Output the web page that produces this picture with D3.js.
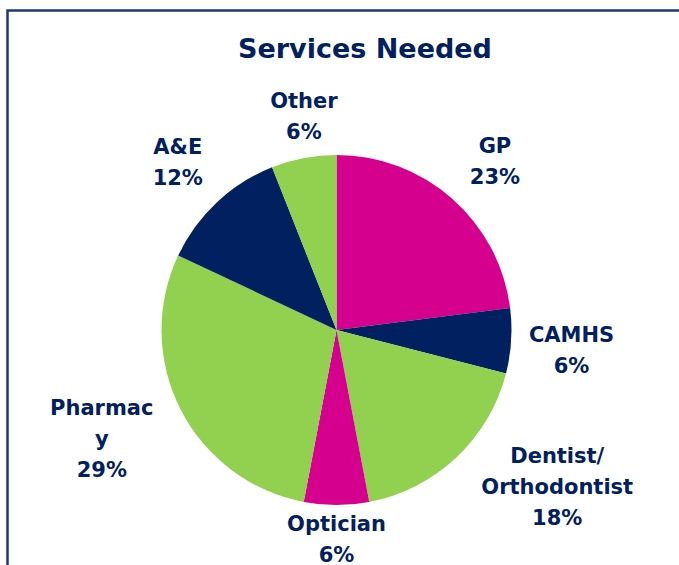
<!DOCTYPE html>
<html>
<head>
<meta charset="utf-8">
<script src="https://cdn.jsdelivr.net/npm/d3@7"></script>
<style>
  body { margin: 0; background: #fff; }
  text { font-family: "DejaVu Sans", Verdana, sans-serif; font-weight: bold; fill: #002060; }
</style>
</head>
<body>
<div id="chart"></div>
<script>
// data, clockwise from 12 o'clock
const services = ['GP', 'CAMHS', 'Dentist/ Orthodontist', 'Optician', 'Pharmacy', 'A&E', 'Other']
const percents = [23, 6, 18, 6, 29, 12, 6]
const sliceColors = ['#d6008f', '#002060', '#92d050', '#d6008f', '#92d050', '#002060', '#92d050']
// how each label wraps in the picture
const labelLines = [['GP'], ['CAMHS'], ['Dentist/', 'Orthodontist'], ['Optician'],
  ['Pharmac', 'y'], ['A&E'], ['Other']]

const width = 679, height = 565
const cx = 336.5, cy = 330, r = 175

// label nudges (px) from the outer centroid, to match the hand-fitted layout
const labelNudge = {
  'GP': [8, 2], 'CAMHS': [8, 6], 'Dentist/ Orthodontist': [65, -9], 'Optician': [0, -19],
  'Pharmacy': [-32, 5], 'A&E': [-3, -2], 'Other': [10, 9]
}

const svg = d3.select('#chart').
  append('svg').
  attr('width', width).
  attr('height', height)

// frame, cut off right and bottom
svg.append('rect').
  attr('x', 7.5).
  attr('y', 10.5).
  attr('width', 800).
  attr('height', 800).
  attr('fill', 'none').
  attr('stroke', '#1f3a78').
  attr('stroke-width', 2.5)

svg.append('text').
  attr('x', 365).
  attr('y', 58).
  attr('text-anchor', 'middle').
  style('font-size', '27px').
  text('Services Needed')

const slices = services.map((s, i) => ({ name: s, value: percents[i], color: sliceColors[i], lines: labelLines[i] }))

const pie = d3.pie().value(d => d.value).sort(null)
const arc = d3.arc().innerRadius(0).outerRadius(r)
const labelArc = d3.arc().innerRadius(r * 1.3).outerRadius(r * 1.3)

const g = svg.append('g').attr('transform', `translate(${cx},${cy})`)

g.selectAll('path').
  data(pie(slices)).
  enter().
  append('path').
  attr('d', arc).
  attr('fill', d => d.data.color)

const lineH = 31
const labels = g.selectAll('g.label').
  data(pie(slices)).
  enter().
  append('g').
  attr('class', 'label').
  attr('transform', d => {
    const [x, y] = labelArc.centroid(d)
    const n = labelNudge[d.data.name]
    return `translate(${x + n[0]},${y + n[1]})`
  })

labels.each(function (d) {
  const lines = d.data.lines.concat([d.data.value + '%'])
  const top = -(lines.length - 1) * lineH / 2
  const t = d3.select(this).append('text').
    attr('text-anchor', 'middle').
    style('font-size', '21px')
  lines.forEach((l, i) => {
    t.append('tspan').
      attr('x', 0).
      attr('y', top + i * lineH).
      attr('dy', '0.36em').
      text(l)
  })
})
</script>
</body>
</html>
